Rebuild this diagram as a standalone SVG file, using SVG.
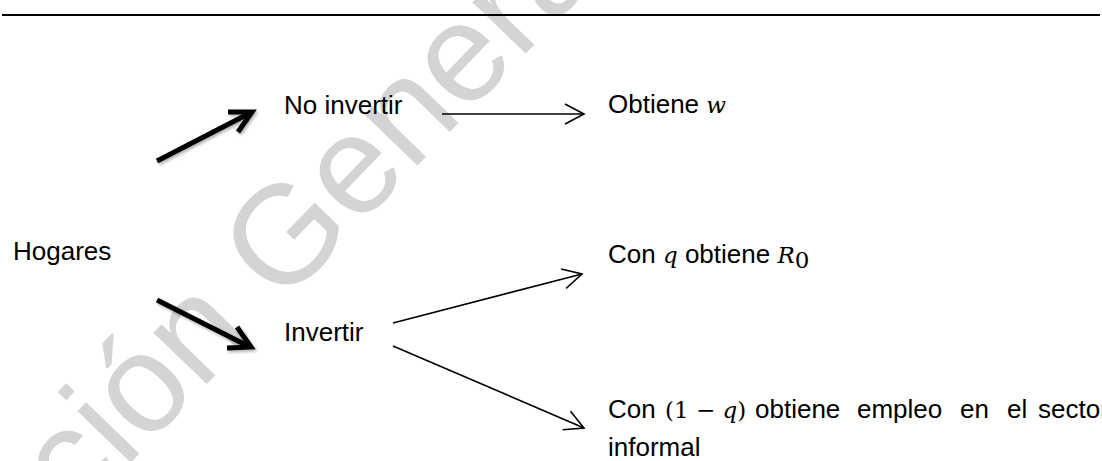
<svg xmlns="http://www.w3.org/2000/svg" width="1102" height="461" viewBox="0 0 1102 461">
<defs>
<style>
.t{font-family:"Liberation Sans",Arial,sans-serif;font-size:26px;fill:#000}
.m{font-family:"DejaVu Serif","Liberation Serif",serif;font-style:italic;font-size:23px}
.mr{font-family:"DejaVu Serif","Liberation Serif",serif;font-style:normal;font-size:23px}
.thin{stroke:#000;stroke-width:1.6;fill:none}
.thick{stroke:#000;stroke-width:5;fill:none;stroke-linecap:butt;stroke-linejoin:miter}
.wm{font-family:"Liberation Sans",Arial,sans-serif;font-size:140px;fill:#d4d4d4}
</style>
<filter id="sh" x="-20%" y="-20%" width="140%" height="140%">
<feDropShadow dx="1.5" dy="2" stdDeviation="1.5" flood-color="#000" flood-opacity="0.3"/>
</filter>
<marker id="open" markerUnits="userSpaceOnUse" markerWidth="24" markerHeight="24" refX="20" refY="11" orient="auto" viewBox="0 0 24 22">
<path d="M1,1 L20,11 L1,21" fill="none" stroke="#000" stroke-width="1.6"/>
</marker>
</defs>
<rect width="1102" height="461" fill="#fff"/>
<text class="wm" transform="translate(27,570) rotate(-46)">cción General</text>
<line x1="2" y1="15" x2="1100" y2="15" stroke="#000" stroke-width="2.2"/>
<g id="connectors">
<g id="thick1" filter="url(#sh)"><line class="thick" x1="157" y1="161" x2="250" y2="113"/><polyline class="thick" points="228,112 252,112 238,132"/></g>
<g id="thick2" filter="url(#sh)"><line class="thick" x1="157" y1="300" x2="248" y2="346"/><polyline class="thick" points="237,327 251,347 227,348"/></g>
<line class="thin" x1="442" y1="114" x2="584" y2="114" marker-end="url(#open)"/>
<line class="thin" x1="393" y1="323" x2="582" y2="274" marker-end="url(#open)"/>
<line class="thin" x1="393" y1="346" x2="584" y2="428" marker-end="url(#open)"/>
</g>
<g id="hogares"><text class="t" x="13" y="260">Hogares</text></g>
<g id="no-invertir"><text class="t" x="284" y="114">No invertir</text></g>
<g id="invertir"><text class="t" x="284" y="341">Invertir</text></g>
<g id="obtiene-w"><text class="t" x="608" y="113">Obtiene <tspan class="m">w</tspan></text></g>
<g id="con-q"><text class="t" x="608" y="263">Con <tspan class="m">q</tspan> obtiene <tspan class="m">R</tspan><tspan class="mr" font-size="16" dy="5">0</tspan></text></g>
<g id="con-1-q">
<text class="t" y="418"><tspan x="608">Con</tspan><tspan class="mr" x="665">(1 − </tspan><tspan class="m">q</tspan><tspan class="mr">)</tspan><tspan x="755">obtiene</tspan><tspan x="857">empleo</tspan><tspan x="960">en</tspan><tspan x="1007">el</tspan><tspan x="1038">sector</tspan></text>
<text class="t" x="608" y="456">informal</text>
</g>
</svg>
